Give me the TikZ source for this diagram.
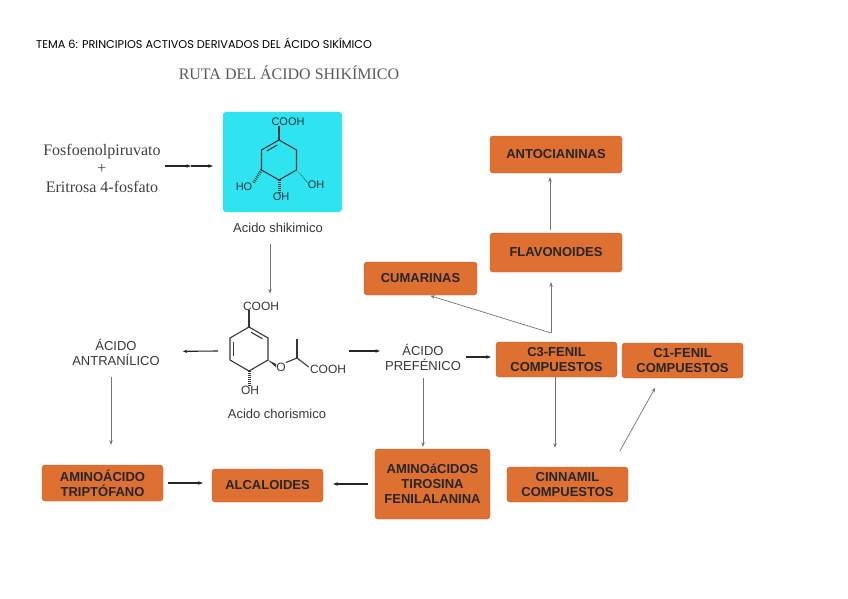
\documentclass[tikz,border=0pt]{standalone}
\usepackage{fontspec}
\setmainfont{Liberation Serif}
\setsansfont{Liberation Sans}
\newfontfamily\headfont{Poppins}
\usetikzlibrary{arrows.meta,calc}
\definecolor{boxorange}{RGB}{222,112,50}
\definecolor{boxline}{RGB}{196,98,44}
\definecolor{shikicyan}{RGB}{45,228,240}
\definecolor{inkgray}{RGB}{55,55,55}
\tikzset{
	box/.style={rectangle, rounded corners=3pt, draw=boxline, fill=boxorange, text=black!85, font=\sffamily\bfseries\fontsize{13}{15}\selectfont, align=center, inner sep=0pt},
	plain/.style={font=\sffamily\fontsize{13}{15}\selectfont, text=inkgray, align=center, inner sep=0pt},
	chem/.style={font=\sffamily\fontsize{11}{13}\selectfont, text=inkgray, inner sep=0pt},
	bond/.style={draw=inkgray, line width=1.1pt},
	hash/.style={draw=inkgray, line width=3pt, dash pattern=on 0.8pt off 1.2pt},
	flow/.style={-{Stealth[length=4.5pt,width=3.5pt]}, draw=black!55, line width=0.7pt},
	mainflow/.style={flow, draw=black!85, line width=1.1pt}
}
\begin{document}
\begin{tikzpicture}[x=1pt,y=-1pt]
	\useasboundingbox (0,0) rectangle (848,599);
	% titles
	\node (head) at (36,43)	[anchor=west, inner sep=0pt, font=\headfont\fontsize{11.3}{13}\selectfont]	{TEMA 6: PRINCIPIOS ACTIVOS DERIVADOS DEL ÁCIDO SIKÍMICO};
	\node (title) at (289,73)	[inner sep=0pt, text=black!65, font=\fontsize{16}{18}\selectfont]	{RUTA DEL ÁCIDO SHIKÍMICO};
	\node (reac) at (102,168)	[inner sep=0pt, align=center, text=black!75, font=\fontsize{16}{18.5}\selectfont]	{Fosfoenolpiruvato\\+\\Eritrosa 4-fosfato};

	% acido shikimico
	\node (skbox) at (282.5,162)	[fill=shikicyan, rounded corners=3pt, minimum width=119pt, minimum height=100pt]	{};
	\coordinate (k1) at (279,140);
	\coordinate (k2) at (296.5,150);
	\coordinate (k3) at (296.5,170);
	\coordinate (k4) at (279,180);
	\coordinate (k5) at (261.5,170);
	\coordinate (k6) at (261.5,150);
	\draw[bond] (k1) -- (k2) -- (k3) -- (k4) -- (k5) -- (k6) -- cycle;
	\draw[bond] ($(k1)!.2!(k6)+(1.8,3)$) -- ($(k1)!.8!(k6)+(1.8,3)$);
	\node (kcooh) at (288,122)	[chem]	{COOH};
	\node (koh1) at (316,185)	[chem]	{OH};
	\node (koh2) at (281,197)	[chem]	{OH};
	\node (koh3) at (244,187)	[chem]	{HO};
	\draw[bond] (k1) -- (k1 |- kcooh.south);
	\fill[inkgray] (k3) -- ($(koh1.north west)+(-1.5,-0.5)$) -- ($(koh1.north west)+(0.5,2.5)$) -- cycle;
	\draw[hash] (k4) -- (k4 |- koh2.north);
	\draw[hash] (k5) -- ($(koh3.north east)+(1,0)$);
	\node (sklabel) at (278,228)	[plain]	{Acido shikimico};

	% acido chorismico
	\coordinate (c1) at (249,327);
	\coordinate (c2) at (268,338);
	\coordinate (c3) at (268,360);
	\coordinate (c4) at (249,371);
	\coordinate (c5) at (230,360);
	\coordinate (c6) at (230,338);
	\draw[bond] (c1) -- (c2) -- (c3) -- (c4) -- (c5) -- (c6) -- cycle;
	\draw[bond] ($(c1)!.2!(c2)+(-1.75,3)$) -- ($(c1)!.8!(c2)+(-1.75,3)$);
	\draw[bond] ($(c5)!.2!(c6)+(3.5,0)$) -- ($(c5)!.8!(c6)+(3.5,0)$);
	\node (ccooh) at (261,306)	[chem, font=\sffamily\fontsize{12}{14}\selectfont]	{COOH};
	\node (cO) at (281,367)	[chem, font=\sffamily\fontsize{12}{14}\selectfont]	{O};
	\node (ccooh2) at (328,369)	[chem, font=\sffamily\fontsize{12}{14}\selectfont]	{COOH};
	\node (coh) at (250,390)	[chem, font=\sffamily\fontsize{12}{14}\selectfont]	{OH};
	\coordinate (cch) at (297,358);
	\coordinate (cme) at (297,339);
	\draw[bond] (c1) -- (c1 |- ccooh.south);
	\fill[inkgray] (c3) -- ($(cO.west)+(0,-3)$) -- ($(cO.west)+(0,0.5)$) -- cycle;
	\draw[bond] (cO.north east) -- (cch) -- ($(ccooh2.west)+(-1,-2)$);
	\draw[bond] (cch) -- (cme);
	\draw[hash] (c4) -- (c4 |- coh.north);
	\node (chlabel) at (277,414)	[plain]	{Acido chorismico};
	\coordinate (chl) at (218,351);
	\coordinate (chr) at (349,351);

	% intermedios
	\node (antr) at (116,352)	[plain]	{ÁCIDO\\ANTRANÍLICO};
	\node (pref) at (423,357)	[plain]	{ÁCIDO\\PREFÉNICO};

	% cajas
	\node (anto) at (556,154.5)	[box, minimum width=132pt, minimum height=37pt]	{ANTOCIANINAS};
	\node (flav) at (556,252.5)	[box, minimum width=132pt, minimum height=39pt]	{FLAVONOIDES};
	\node (cuma) at (420.5,278.5)	[box, minimum width=113pt, minimum height=33pt]	{CUMARINAS};
	\node (c3f) at (556.5,359.5)	[box, minimum width=121pt, minimum height=35pt]	{C3-FENIL\\COMPUESTOS};
	\node (c1f) at (682.5,360.5)	[box, minimum width=121pt, minimum height=35pt]	{C1-FENIL\\COMPUESTOS};
	\node (cinn) at (567.5,484.5)	[box, minimum width=121pt, minimum height=35pt]	{CINNAMIL\\COMPUESTOS};
	\node (amin) at (432.5,484)	[box, minimum width=115pt, minimum height=70pt]	{AMINOáCIDOS\\TIROSINA\\FENILALANINA};
	\node (alca) at (267.5,485.5)	[box, minimum width=111pt, minimum height=33pt]	{ALCALOIDES};
	\node (trip) at (102.5,483)	[box, minimum width=121pt, minimum height=36pt]	{AMINOÁCIDO\\TRIPTÓFANO};

	% flechas
	\coordinate (fmid) at (191,166);
	\draw[mainflow, shorten <=4pt] (reac.east |- fmid) -- (fmid);
	\draw[mainflow, shorten >=10pt] (fmid) -- (skbox.west |- fmid);
	\draw[flow, shorten <=11pt, shorten >=8pt] ([xshift=-8pt]sklabel.south) -- ([xshift=-8pt]sklabel.south |- ccooh.north);
	\draw[mainflow, shorten >=23pt] (chl) -- (antr);
	\draw[mainflow, shorten >=5pt] (chr) -- (pref.west |- chr);
	\draw[mainflow, shorten <=5pt, shorten >=5pt] (pref.east) -- (pref.east -| c3f.west);
	\coordinate (fork) at (551,333);
	\draw[flow, shorten >=10pt] (fork) -- (fork |- flav.south);
	\draw[flow, shorten >=2pt] (fork) -- ([xshift=8pt]cuma.south);
	\draw[flow, shorten <=3pt, shorten >=4pt] ([xshift=-6pt]flav.north) -- ([xshift=-6pt]anto.south);
	\draw[flow, shorten >=19pt] ([xshift=-1.5pt]c3f.south) -- ([xshift=-1.5pt]c3f.south |- cinn.north);
	\draw[flow, shorten <=8pt, shorten >=2pt] (pref.south) -- (pref.south |- amin.north);
	\draw[flow, shorten <=18pt, shorten >=11pt] ([xshift=43.5pt]cinn.north) -- ([xshift=-22pt]c1f.south);
	\draw[flow, shorten <=12pt, shorten >=20pt] ([xshift=-5pt]antr.south) -- ([xshift=-5pt]antr.south |- trip.north);
	\draw[mainflow, shorten <=5pt, shorten >=9pt] (trip.east) -- (trip.east -| alca.west);
	\draw[mainflow, shorten <=7pt, shorten >=10pt] (amin.west) -- (amin.west -| alca.east);
\end{tikzpicture}
\end{document}
